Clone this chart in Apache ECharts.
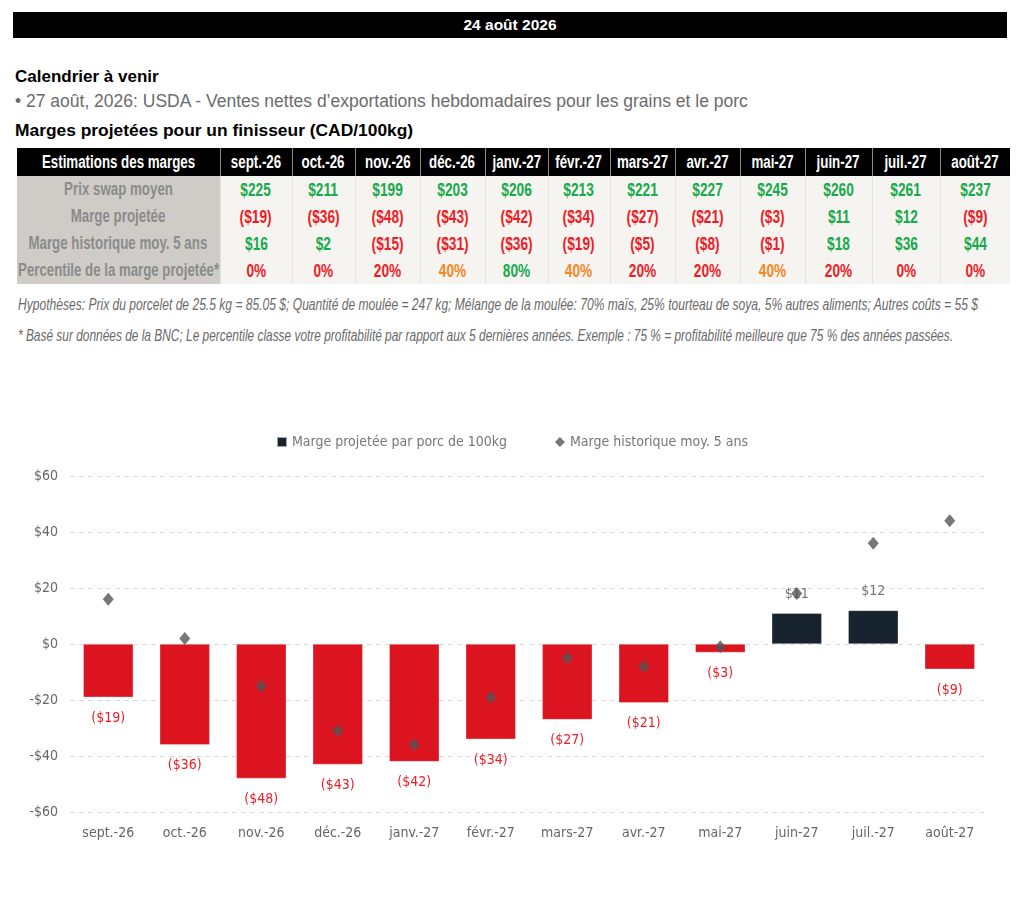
<!DOCTYPE html>
<html>
<head>
<meta charset="utf-8">
<script src="https://cdn.jsdelivr.net/npm/echarts@6/dist/echarts.min.js"></script>
<style>
  html,body{margin:0;padding:0;background:#fff;width:1024px;height:914px;overflow:hidden;font-family:"Liberation Sans",Arial,sans-serif;}
  #hdr{position:absolute;left:13px;top:12px;width:994px;height:26px;background:#000;color:#fff;font-weight:bold;font-size:15.5px;text-align:center;line-height:26px;}
  #t1{position:absolute;left:15px;top:67px;font-weight:bold;font-size:17px;color:#000;}
  #t2{position:absolute;left:15px;top:91px;font-size:17.5px;color:#6b6b6b;white-space:nowrap;}
  #t3{position:absolute;left:15px;top:120px;font-weight:bold;font-size:17.4px;color:#000;}
  #tbl{position:absolute;left:17px;top:148px;border-collapse:collapse;table-layout:fixed;font-family:"Liberation Sans",Arial,sans-serif;font-weight:bold;}
  #tbl th{background:#000;color:#fff;font-size:18px;height:28px;padding:0;border-left:1.5px solid #8a8a8a;text-align:center;white-space:nowrap;}
  #tbl th:first-child{border-left:none;}
  #tbl td{background:#f6f4f1;font-size:18.5px;height:27px;padding:0;text-align:center;border-left:1px solid #e4e1dc;white-space:nowrap;}
  #tbl td.lab{background:#cfccc8;color:#8b8b8b;border-left:none;font-size:18px;}
  .sq{display:inline-block;transform-origin:center;}
  .note{position:absolute;left:18px;font-family:"Liberation Sans",Arial,sans-serif;font-style:italic;font-size:17px;color:#6a6a6a;white-space:nowrap;transform-origin:left center;}
  #chart{position:absolute;left:0;top:400px;width:1024px;height:470px;}
</style>
</head>
<body>
<div id="hdr">24 août 2026</div>
<div id="t1">Calendrier à venir</div>
<div id="t2">• 27 août, 2026: USDA - Ventes nettes d’exportations hebdomadaires pour les grains et le porc</div>
<div id="t3">Marges projetées pour un finisseur (CAD/100kg)</div>
<table id="tbl"></table>
<div class="note" id="n1" style="top:295px;">Hypothèses: Prix du porcelet de 25.5 kg = 85.05 $; Quantité de moulée = 247 kg; Mélange de la moulée: 70% maïs, 25% tourteau de soya, 5% autres aliments; Autres coûts = 55 $</div>
<div class="note" id="n2" style="top:326px;">* Basé sur données de la BNC; Le percentile classe votre profitabilité par rapport aux 5 dernières années. Exemple : 75 % = profitabilité meilleure que 75 % des années passées.</div>
<div id="chart"></div>
<script>
var months = ['sept.-26','oct.-26','nov.-26','déc.-26','janv.-27','févr.-27','mars-27','avr.-27','mai-27','juin-27','juil.-27','août-27'];
var swapPrice = [225,211,199,203,206,213,221,227,245,260,261,237];
var projMargin = [-19,-36,-48,-43,-42,-34,-27,-21,-3,11,12,-9];
var histMargin = [16,2,-15,-31,-36,-19,-5,-8,-1,18,36,44];
var percentile = [0,0,20,40,80,40,20,20,40,20,0,0];
var rowLabels = ['Prix swap moyen','Marge projetée','Marge historique moy. 5 ans','Percentile de la marge projetée*'];
var headLabel = 'Estimations des marges';
var legendNames = ['Marge projetée par porc de 100kg','Marge historique moy. 5 ans'];

var GREEN='#17a94b', RED='#ee1c25', ORANGE='#f7861e';
function money(v){return v<0?'($'+Math.abs(v)+')':'$'+v;}
function moneyColor(v){return v<0?RED:GREEN;}
function pctColor(p){return p>=60?GREEN:(p>=40?ORANGE:RED);}
function sq(t){return '<span class="sq">'+t+'</span>';}

// Table
var colW=[203,72,63,65,65,63,62,65,65,65,67,68,70];
var tbl=document.getElementById('tbl');
var cg='<colgroup>'+colW.map(function(w){return '<col style="width:'+w+'px">';}).join('')+'</colgroup>';
var h='<tr><th>'+sq(headLabel)+'</th>'+months.map(function(m){return '<th>'+sq(m)+'</th>';}).join('')+'</tr>';
var rows=[swapPrice,projMargin,histMargin];
rows.forEach(function(r,i){
  h+='<tr><td class="lab">'+sq(rowLabels[i])+'</td>'+r.map(function(v){return '<td style="color:'+moneyColor(v)+'">'+sq(money(v))+'</td>';}).join('')+'</tr>';
});
h+='<tr><td class="lab">'+sq(rowLabels[3])+'</td>'+percentile.map(function(p){return '<td style="color:'+pctColor(p)+'">'+sq(p+'%')+'</td>';}).join('')+'</tr>';
tbl.innerHTML=cg+h;
tbl.style.width=colW.reduce(function(a,b){return a+b;},0)+'px';
// compress text horizontally while keeping it centred
var SX=0.74;
Array.prototype.forEach.call(tbl.querySelectorAll('.sq'),function(s){
  var w=s.getBoundingClientRect().width;
  var sc=SX;
  var cellW=s.parentNode.getBoundingClientRect().width-2;
  if(w*sc>cellW) sc=cellW/w;
  var m=-(w*(1-sc))/2;
  s.style.transform='scaleX('+sc+')';
  s.style.marginLeft=m+'px';s.style.marginRight=m+'px';
});

// fit notes to reference widths
[['n1',960],['n2',935]].forEach(function(a){
  var el=document.getElementById(a[0]);
  var w=el.getBoundingClientRect().width;
  el.style.transform='scaleX('+(a[1]/w)+')';
});

// Chart
var chart=echarts.init(document.getElementById('chart'),null,{renderer:'canvas'});
var FONT='"DejaVu Sans Condensed","Liberation Sans",sans-serif';
var barData=projMargin.map(function(v){
  return {value:v,itemStyle:{color:v<0?'#dc141f':'#17232f'},
    label:{position:v<0?'bottom':'top',color:v<0?'#ee1c25':'#777',distance:v<0?14:12}};
});
chart.setOption({
  animation:false,
  textStyle:{fontFamily:FONT},
  legend:{top:30,left:'center',itemGap:48,itemWidth:10,itemHeight:10,
    textStyle:{color:'#777',fontSize:14,fontFamily:FONT},
    data:[{name:legendNames[0],icon:'rect'},{name:legendNames[1],icon:'diamond',itemStyle:{color:'#555'}}]},
  grid:{left:70,top:76,width:918,height:336,containLabel:false},
  xAxis:{type:'category',data:months,axisLine:{show:false},axisTick:{show:false},
    axisLabel:{color:'#666',fontSize:14,fontFamily:FONT,margin:14,interval:0}},
  yAxis:{type:'value',min:-60,max:60,interval:20,
    axisLabel:{color:'#666',fontSize:14,fontFamily:FONT,margin:12,formatter:function(v){return v<0?'-$'+Math.abs(v):'$'+v;}},
    splitLine:{lineStyle:{color:'#d9d9d9',type:[5,4],width:1}},axisLine:{show:false},axisTick:{show:false}},
  series:[
    {name:legendNames[0],type:'bar',data:barData,barWidth:50,itemStyle:{color:'#17232f',borderColor:'rgba(255,255,255,0.6)',borderWidth:0.5},
      label:{show:true,fontSize:14,fontFamily:FONT,formatter:function(p){return money(p.value);}}},
    {name:legendNames[1],type:'scatter',data:histMargin,symbol:'diamond',symbolSize:[11,13],itemStyle:{color:'#555'},z:5}
  ]
});
</script>
</body>
</html>
